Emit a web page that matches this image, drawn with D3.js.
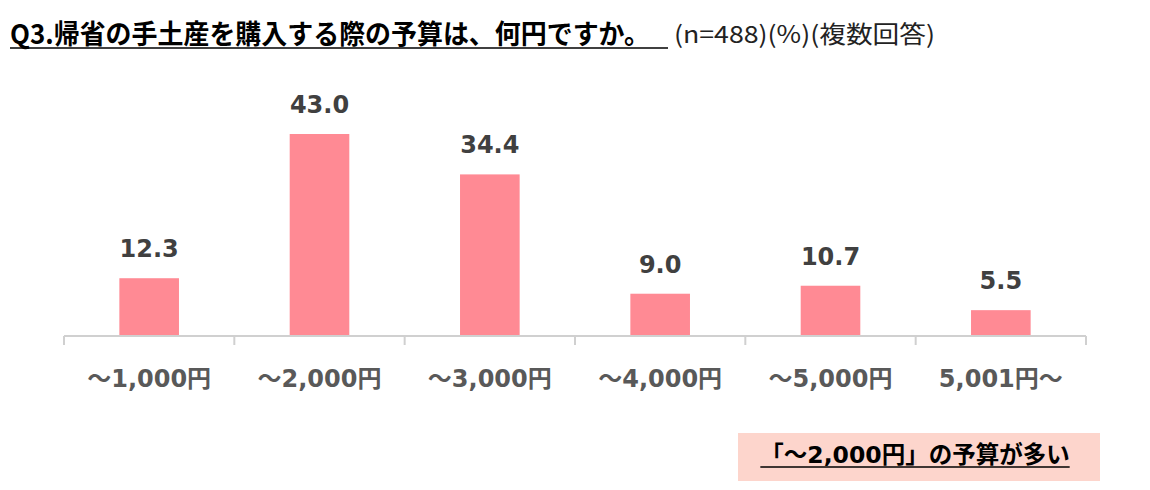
<html>
<head>
<meta charset="utf-8">
<title>Q3 予算</title>
<style>
body{ margin:0; background:#fff; }
.title{ font-family:"Noto Sans CJK JP",sans-serif; font-weight:bold; font-size:27px; fill:#000; }
.sub{ font-family:"Noto Sans CJK JP",sans-serif; font-size:24px; fill:#222; }
.bar{ fill:#ff8a94; }
.val{ font-family:"DejaVu Sans","Noto Sans CJK JP",sans-serif; font-weight:bold; font-size:24px; fill:#404040; }
.cat{ font-family:"DejaVu Sans","Noto Sans CJK JP",sans-serif; font-weight:bold; font-size:24px; fill:#595959; }
.axis path, .axis line{ stroke:#d0d0d0; stroke-width:2px; }
.note{ font-family:"DejaVu Sans","Noto Sans CJK JP",sans-serif; font-weight:bold; font-size:23.5px; fill:#000; }
</style>
</head>
<body>
<script src="https://cdn.jsdelivr.net/npm/d3@7/dist/d3.min.js" charset="utf-8"></script>
<script>

var categories = ["～1,000円","～2,000円","～3,000円","～4,000円","～5,000円","5,001円～"];
var values = [12.3, 43.0, 34.4, 9.0, 10.7, 5.5];

var width = 1150;
var height = 490;

var svg = d3.select("body").append("svg")
	.attr("width", width)
	.attr("height", height);

// 坐标区
var plot = {left:64, right:1086, top:134, bottom:336};

var x = d3.scaleBand()
	.domain(categories)
	.range([plot.left, plot.right])
	.paddingInner(0.65)
	.paddingOuter(0.325);

var y = d3.scaleLinear()
	.domain([0, 43.0])
	.range([plot.bottom, plot.top]);

// 标题
svg.append("text")
	.attr("class","title")
	.attr("x",10)
	.attr("y",44)
	.attr("textLength",640)
	.attr("lengthAdjust","spacingAndGlyphs")
	.text("Q3.帰省の手土産を購入する際の予算は、何円ですか。");

svg.append("line")
	.attr("x1",10).attr("x2",668)
	.attr("y1",48).attr("y2",48)
	.attr("stroke","#000").attr("stroke-width",1.5);

svg.append("text")
	.attr("class","sub")
	.attr("x",674)
	.attr("y",43)
	.attr("textLength",261)
	.attr("lengthAdjust","spacingAndGlyphs")
	.text("(n=488)(%)(複数回答)");

// 柱子
svg.selectAll(".bar")
	.data(values)
	.enter().append("rect")
	.attr("class","bar")
	.attr("x",function(d,i){ return x(categories[i]); })
	.attr("y",function(d){ return y(d); })
	.attr("width",x.bandwidth())
	.attr("height",function(d){ return y(0) - y(d); });

// 数值
svg.selectAll(".val")
	.data(values)
	.enter().append("text")
	.attr("class","val")
	.attr("text-anchor","middle")
	.attr("x",function(d,i){ return x(categories[i]) + x.bandwidth()/2; })
	.attr("y",function(d){ return y(d) - 21; })
	.text(function(d){ return d.toFixed(1); });

// 坐标轴（分隔刻度）
var edges = d3.scalePoint()
	.domain(d3.range(categories.length + 1))
	.range([plot.left, plot.right]);

var axisG = svg.append("g").attr("class","axis");
axisG.append("line")
	.attr("x1",plot.left).attr("x2",plot.right)
	.attr("y1",plot.bottom).attr("y2",plot.bottom);
axisG.selectAll(".tick")
	.data(edges.domain())
	.enter().append("line")
	.attr("x1",function(d){ return edges(d); })
	.attr("x2",function(d){ return edges(d); })
	.attr("y1",plot.bottom)
	.attr("y2",plot.bottom + 9);

svg.selectAll(".cat")
	.data(categories)
	.enter().append("text")
	.attr("class","cat")
	.attr("text-anchor","middle")
	.attr("x",function(d){ return x(d) + x.bandwidth()/2; })
	.attr("y",387)
	.text(function(d){ return d; });

// 注释框
svg.append("rect")
	.attr("x",738).attr("y",433)
	.attr("width",362).attr("height",48)
	.attr("fill","#fdd5cc");

var note = svg.append("text")
	.attr("class","note")
	.attr("text-anchor","middle")
	.attr("x",915)
	.attr("y",463)
	.text("「～2,000円」の予算が多い");

var nb = note.node().getBBox();
svg.append("line")
	.attr("x1",nb.x).attr("x2",nb.x + nb.width)
	.attr("y1",467).attr("y2",467)
	.attr("stroke","#000").attr("stroke-width",1.5);

</script>
</body>
</html>
